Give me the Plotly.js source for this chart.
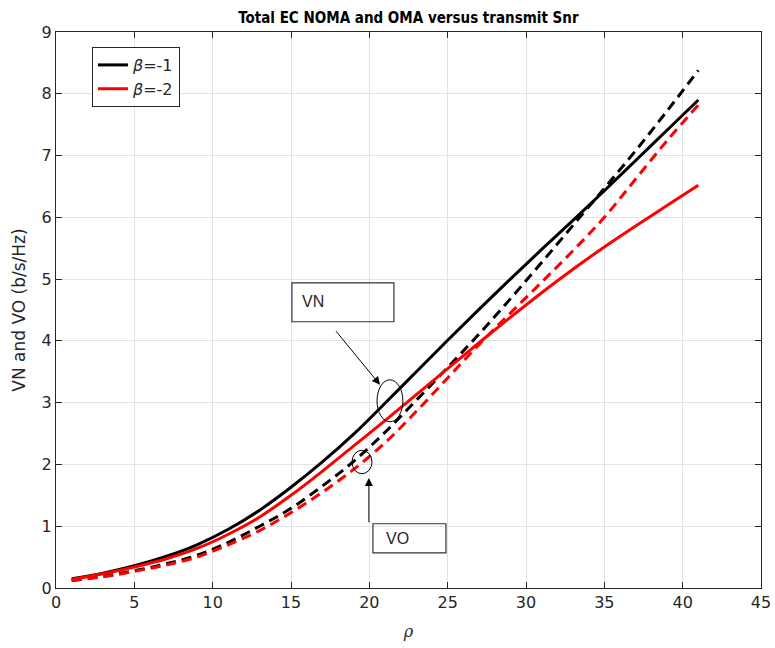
<!DOCTYPE html>
<html>
<head>
<meta charset="utf-8">
<script src="https://cdn.plot.ly/plotly-3.0.1.min.js"></script>
<style>html,body{margin:0;padding:0;background:#fff;}#chart{width:775px;height:648px;}</style>
</head>
<body>
<div id="chart"></div>
<script>
// x values (rho)
var rho = [1,3,5,7,9,11,13,15,17,19,21,23,25,27,29,31,33,35,37,39,41];
// NOMA (solid) and OMA (dashed) for beta = -1 and beta = -2
var vnBeta1 = [0.15,0.24,0.36,0.51,0.70,0.95,1.26,1.63,2.04,2.49,2.99,3.50,4.01,4.51,5.00,5.48,5.95,6.43,6.92,7.41,7.90];
var vnBeta2 = [0.14,0.23,0.34,0.47,0.64,0.87,1.15,1.50,1.89,2.30,2.71,3.13,3.55,3.97,4.38,4.78,5.16,5.52,5.86,6.19,6.52];
var voBeta1 = [0.12,0.19,0.28,0.39,0.53,0.74,1.00,1.29,1.65,2.05,2.52,3.04,3.57,4.11,4.68,5.27,5.87,6.47,7.08,7.72,8.38];
var voBeta2 = [0.12,0.18,0.27,0.37,0.50,0.70,0.93,1.22,1.55,1.92,2.35,2.86,3.40,3.94,4.45,4.95,5.46,6.00,6.62,7.24,7.82];
var legendNames = ['<i>β</i>=-1', '<i>β</i>=-2'];
var xTicks = [0,5,10,15,20,25,30,35,40,45];
var yTicks = [0,1,2,3,4,5,6,7,8,9];

var traces = [
  {x: rho, y: voBeta1, mode: 'lines', line: {color: '#000000', width: 3, dash: '10px,6px', shape: 'spline', smoothing: 1}, showlegend: false},
  {x: rho, y: voBeta2, mode: 'lines', line: {color: '#ff0000', width: 3, dash: '10px,6px', shape: 'spline', smoothing: 1}, showlegend: false},
  {x: rho, y: vnBeta1, mode: 'lines', name: legendNames[0], line: {color: '#000000', width: 3, shape: 'spline', smoothing: 1}},
  {x: rho, y: vnBeta2, mode: 'lines', name: legendNames[1], line: {color: '#ff0000', width: 3, shape: 'spline', smoothing: 1}}
];

var axisCommon = {
  showline: true, linecolor: '#262626', linewidth: 1, mirror: 'ticks',
  ticks: 'inside', ticklen: 6, tickcolor: '#262626',
  showgrid: true, gridcolor: '#e3e3e3', gridwidth: 1, zeroline: false,
  tickfont: {family: 'DejaVu Sans', size: 16, color: '#262626'}
};

var layout = {
  width: 775, height: 648,
  margin: {l: 56, r: 14, t: 32, b: 60},
  paper_bgcolor: '#ffffff', plot_bgcolor: '#ffffff',
  title: {text: '<b>Total EC NOMA and OMA versus transmit Snr</b>', x: 0.527, xanchor: 'center', y: 0.972, yanchor: 'middle',
          font: {family: 'DejaVu Sans Condensed, DejaVu Sans', size: 15, color: '#000000'}},
  xaxis: Object.assign({}, axisCommon, {range: [0, 45], tickvals: xTicks, ticktext: xTicks.map(String),
          title: {text: '<i>ρ</i>', font: {family: 'DejaVu Serif', size: 16, color: '#262626'}, standoff: 14}}),
  yaxis: Object.assign({}, axisCommon, {range: [0, 9], tickvals: yTicks, ticktext: yTicks.map(String),
          title: {text: 'VN and VO (b/s/Hz)', font: {family: 'DejaVu Sans', size: 17, color: '#262626'}, standoff: 11}}),
  legend: {x: 0.051, y: 0.973, xanchor: 'left', yanchor: 'top', bgcolor: '#ffffff', bordercolor: '#262626', borderwidth: 1,
           font: {family: 'DejaVu Sans', size: 16, color: '#262626'}, tracegroupgap: 0, itemwidth: 30},
  shapes: [
    {type: 'rect', xref: 'x', yref: 'y', x0: 15.06, x1: 21.57, y0: 4.31, y1: 4.94, line: {color: '#333333', width: 1.2}},
    {type: 'circle', xref: 'x', yref: 'y', x0: 20.49, x1: 22.14, y0: 2.69, y1: 3.37, line: {color: '#000000', width: 1}},
    {type: 'circle', xref: 'x', yref: 'y', x0: 18.89, x1: 20.17, y0: 1.85, y1: 2.23, line: {color: '#000000', width: 1}},
    {type: 'rect', xref: 'x', yref: 'y', x0: 20.23, x1: 24.89, y0: 0.57, y1: 1.04, line: {color: '#333333', width: 1.2}}
  ],
  annotations: [
    {xref: 'x', yref: 'y', x: 15.55, y: 4.64, text: 'VN', showarrow: false, xanchor: 'left', yanchor: 'middle',
     font: {family: 'Liberation Sans', size: 16, color: '#262626'}},
    {xref: 'x', yref: 'y', x: 20.95, y: 0.80, text: 'VO', showarrow: false, xanchor: 'left', yanchor: 'middle',
     font: {family: 'Liberation Sans', size: 16, color: '#262626'}},
    {xref: 'x', yref: 'y', axref: 'x', ayref: 'y', x: 20.68, y: 3.29, ax: 17.8, ay: 4.18, text: '', showarrow: true,
     arrowhead: 2, arrowsize: 1.6, arrowwidth: 1, arrowcolor: '#000000'},
    {xref: 'x', yref: 'y', axref: 'x', ayref: 'y', x: 19.97, y: 1.78, ax: 19.97, ay: 1.04, text: '', showarrow: true,
     arrowhead: 2, arrowsize: 1.6, arrowwidth: 1, arrowcolor: '#000000'}
  ]
};

Plotly.newPlot('chart', traces, layout, {displayModeBar: false, staticPlot: true});
</script>
</body>
</html>
